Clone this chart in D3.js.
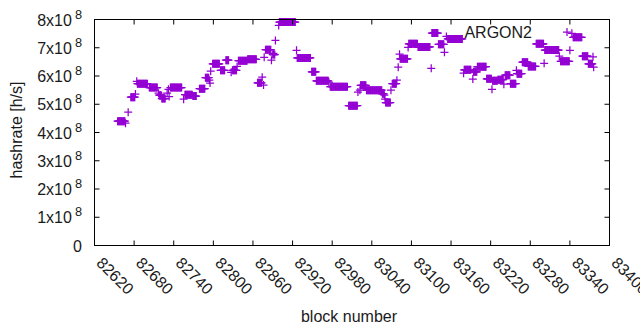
<!DOCTYPE html>
<html>
<head>
<meta charset="utf-8">
<script src="https://cdn.jsdelivr.net/npm/d3@7"></script>
<style>
  body { margin: 0; background: #fff; }
  text { font-family: "Liberation Sans", Arial, sans-serif; fill: #1a1a1a; }
</style>
</head>
<body>
<div id="chart"></div>
<script>
const runStart = [82655, 82667, 82671, 82675, 82682, 82684, 82685, 82703, 82717, 82718,
  82722, 82730, 82732, 82733, 82735, 82755, 82757, 82769, 82779, 82788,
  82794, 82795, 82796, 82799, 82811, 82819, 82827, 82829, 82836, 82838,
  82852, 82867, 82874, 82876, 82877, 82879, 82888, 82890, 82891, 82894,
  82899, 82900, 82926, 82927, 82949, 82956, 82975, 82977, 83005, 83019,
  83022, 83023, 83032, 83056, 83059, 83060, 83061, 83069, 83071, 83078,
  83080, 83082, 83083, 83095, 83096, 83110, 83130, 83131, 83141, 83150,
  83153, 83155, 83179, 83180, 83193, 83194, 83200, 83214, 83222, 83223,
  83231, 83240, 83242, 83250, 83259, 83260, 83268, 83277, 83289, 83301,
  83302, 83324, 83326, 83340, 83343, 83345, 83359, 83368, 83375, 83376];
const runEnd = [82666, 82667, 82671, 82681, 82682, 82684, 82700, 82715, 82717, 82721,
  82727, 82730, 82732, 82733, 82752, 82755, 82768, 82774, 82787, 82793,
  82794, 82795, 82796, 82809, 82817, 82823, 82827, 82835, 82836, 82851,
  82865, 82873, 82874, 82876, 82877, 82887, 82888, 82893, 82891, 82894,
  82899, 82924, 82926, 82947, 82955, 82974, 82975, 83003, 83018, 83019,
  83022, 83031, 83055, 83058, 83059, 83060, 83068, 83069, 83077, 83078,
  83080, 83082, 83094, 83095, 83109, 83128, 83130, 83140, 83149, 83150,
  83153, 83177, 83179, 83190, 83193, 83199, 83213, 83221, 83222, 83230,
  83239, 83240, 83249, 83258, 83259, 83267, 83276, 83288, 83300, 83301,
  83323, 83324, 83339, 83340, 83343, 83358, 83367, 83374, 83375, 83376];
const runRate = [4.40e8, 4.33e8, 4.72e8, 5.25e8, 5.36e8, 5.81e8, 5.73e8, 5.59e8, 5.39e8, 5.32e8,
  5.20e8, 5.39e8, 5.53e8, 5.27e8, 5.59e8, 5.18e8, 5.34e8, 5.29e8, 5.55e8, 5.94e8,
  5.85e8, 5.75e8, 6.17e8, 6.43e8, 6.20e8, 6.56e8, 6.13e8, 6.20e8, 6.34e8, 6.54e8,
  6.59e8, 5.76e8, 5.96e8, 5.68e8, 6.66e8, 6.93e8, 6.56e8, 6.76e8, 6.80e8, 7.26e8,
  7.79e8, 7.91e8, 6.91e8, 6.64e8, 6.15e8, 5.83e8, 5.78e8, 5.62e8, 4.95e8, 5.43e8,
  5.50e8, 5.67e8, 5.50e8, 5.37e8, 5.32e8, 5.18e8, 5.06e8, 5.50e8, 5.73e8, 5.85e8,
  6.31e8, 6.77e8, 6.61e8, 7.01e8, 7.14e8, 7.03e8, 6.27e8, 7.52e8, 7.12e8, 6.84e8,
  7.40e8, 7.31e8, 6.10e8, 6.22e8, 5.89e8, 6.15e8, 6.33e8, 5.90e8, 5.53e8, 5.83e8,
  5.87e8, 5.71e8, 6.03e8, 5.73e8, 6.20e8, 6.08e8, 6.49e8, 6.34e8, 7.14e8, 6.45e8,
  6.92e8, 6.70e8, 6.52e8, 6.91e8, 7.51e8, 7.37e8, 6.70e8, 6.43e8, 6.68e8, 6.31e8];

const xTicks = [82620, 82680, 82740, 82800, 82860, 82920, 82980, 83040, 83100, 83160, 83220, 83280, 83340, 83400];
const yTicks = [0, 1e8, 2e8, 3e8, 4e8, 5e8, 6e8, 7e8, 8e8];
const seriesName = "ARGON2";

const color = "#9400D3";
const width = 640, height = 330;
const plotL = 94.5, plotR = 609.5, plotT = 19.5, plotB = 245.5;

// one point per block
const points = [];
runStart.forEach((s, i) => {
  for (let b = s; b <= runEnd[i]; b++) points.push({ block: b, rate: runRate[i] });
});

const svg = d3.select("#chart").append("svg")
  .attr("width", width)
  .attr("height", height);

const x = d3.scaleLinear().domain([xTicks[0], xTicks[xTicks.length - 1]]).range([plotL, plotR]);
const y = d3.scaleLinear().domain([0, 8e8]).range([plotB, plotT]);

const cross = "M-4,0H4M0,-4V4";

// points
svg.append("g")
  .selectAll("path")
  .data(points)
  .enter()
  .append("path")
  .attr("d", cross)
  .attr("transform", d => `translate(${x(d.block)},${y(d.rate)})`)
  .attr("stroke", color)
  .attr("stroke-width", 1.25)
  .attr("fill", "none");

// ticks (mirrored on all four sides)
const tk = svg.append("g").attr("stroke", "#000").attr("stroke-width", 1);
xTicks.forEach(t => {
  tk.append("line").attr("x1", x(t)).attr("x2", x(t)).attr("y1", plotB).attr("y2", plotB - 5);
  tk.append("line").attr("x1", x(t)).attr("x2", x(t)).attr("y1", plotT).attr("y2", plotT + 5);
});
yTicks.forEach(t => {
  tk.append("line").attr("x1", plotL).attr("x2", plotL + 5).attr("y1", y(t)).attr("y2", y(t));
  tk.append("line").attr("x1", plotR).attr("x2", plotR - 5).attr("y1", y(t)).attr("y2", y(t));
});

// frame
svg.append("rect")
  .attr("x", plotL).attr("y", plotT)
  .attr("width", plotR - plotL).attr("height", plotB - plotT)
  .attr("fill", "none").attr("stroke", "#000").attr("stroke-width", 1);

// y tick labels like "5x10^8"
yTicks.forEach(t => {
  const lbl = svg.append("text")
    .attr("x", 82)
    .attr("y", y(t) + 6)
    .attr("text-anchor", "end")
    .style("font-size", "16px");
  if (t === 0) {
    lbl.text("0");
  } else {
    lbl.append("tspan").text(`${t / 1e8}x10`);
    lbl.append("tspan").attr("dx", 3).attr("dy", -7).style("font-size", "12.8px").text("8");
  }
});

// x tick labels, rotated
xTicks.forEach(t => {
  svg.append("text")
    .attr("transform", `translate(${x(t) + 1},${264}) rotate(45)`)
    .style("font-size", "16px")
    .text(t);
});

// axis titles
svg.append("text")
  .attr("x", 349).attr("y", 322)
  .attr("text-anchor", "middle")
  .style("font-size", "16px")
  .text("block number");

svg.append("text")
  .attr("transform", "translate(22,130) rotate(-90)")
  .attr("text-anchor", "middle")
  .style("font-size", "16px")
  .text("hashrate [h/s]");

// key
svg.append("text")
  .attr("x", 532).attr("y", 37.5)
  .attr("text-anchor", "end")
  .style("font-size", "16px")
  .text(seriesName);

svg.append("path")
  .attr("d", cross)
  .attr("transform", "translate(567,32)")
  .attr("stroke", color)
  .attr("stroke-width", 1.25)
  .attr("fill", "none");
</script>
</body>
</html>
